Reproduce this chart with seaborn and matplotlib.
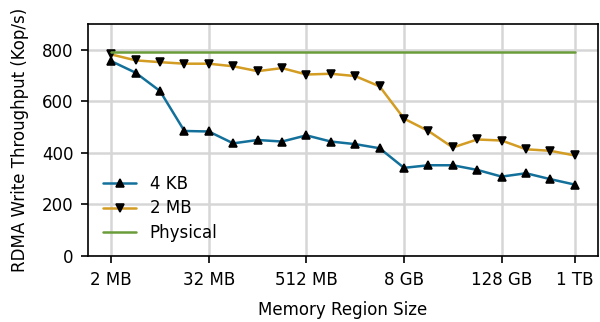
import numpy as np
import pandas as pd
import seaborn as sns
import matplotlib
matplotlib.use("Agg")
import matplotlib.pyplot as plt

# region sizes in MB (2 MB .. 1 TB)
sizes_mb = [2, 4, 8, 16, 32, 64, 128, 256, 512, 1024, 2048, 4096, 8192,
            16384, 32768, 65536, 131072, 262144, 524288, 1048576]
tput_4kb = [756, 711, 640, 485, 483, 437, 450, 444, 468, 444, 434, 418,
            342, 352, 352, 334, 308, 321, 298, 277]
tput_2mb = [782, 759, 752, 746, 746, 736, 717, 729, 704, 707, 698, 658,
            533, 485, 421, 452, 448, 414, 408, 390]
tput_phys = [791] * 20
tick_mb = [2, 32, 512, 8192, 131072, 1048576]
tick_labels = ["2 MB", "32 MB", "512 MB", "8 GB", "128 GB", "1 TB"]

sns.set_theme(style="whitegrid")
plt.rcParams.update({
    "font.family": ["DejaVu Sans"],
    "font.size": 8, "axes.labelsize": 8, "xtick.labelsize": 8,
    "ytick.labelsize": 8, "legend.fontsize": 8,
    "axes.edgecolor": "black", "axes.linewidth": 0.8,
    "axes.labelcolor": "black", "text.color": "black",
    "grid.color": "#d6d6d6", "grid.linewidth": 1.2,
    "xtick.bottom": True, "ytick.left": True,
    "xtick.major.size": 3.5, "ytick.major.size": 3.5,
    "xtick.major.width": 0.8, "ytick.major.width": 0.8,
    "xtick.color": "black", "ytick.color": "black",
})

fig = plt.figure(figsize=(4, 322 / 150), dpi=150)
ax = fig.add_axes([88 / 600, 1 - 256 / 322, 510 / 600, 232 / 322])

df = pd.DataFrame({"size": sizes_mb, "k4": tput_4kb, "m2": tput_2mb, "ph": tput_phys})

sns.lineplot(data=df, x="size", y="k4", ax=ax, color="#12709a", lw=1.2,
             marker="^", markersize=3.5, markeredgecolor="black",
             markerfacecolor="black", label="4 KB")
sns.lineplot(data=df, x="size", y="m2", ax=ax, color="#d39c22", lw=1.2,
             marker="v", markersize=3.5, markeredgecolor="black",
             markerfacecolor="black", label="2 MB")
sns.lineplot(data=df, x="size", y="ph", ax=ax, color="#6b9c3a", lw=1.2,
             label="Physical")

ax.set_xscale("log", base=2)
ax.set_xticks(tick_mb)
ax.set_xticklabels(tick_labels)
ax.minorticks_off()
ax.set_ylim(0, 900)
ax.set_yticks([0, 200, 400, 600, 800])
ax.set_xlabel("Memory Region Size", labelpad=6)
ax.set_ylabel("RDMA Write Throughput (Kop/s)", labelpad=6)
for s in ax.spines.values():
    s.set_visible(True)
    s.set_color("black")

ax.legend(loc="lower left", frameon=False, bbox_to_anchor=(0.0, -0.005),
          labelspacing=0.4)

fig.savefig("out.png", dpi=150)
